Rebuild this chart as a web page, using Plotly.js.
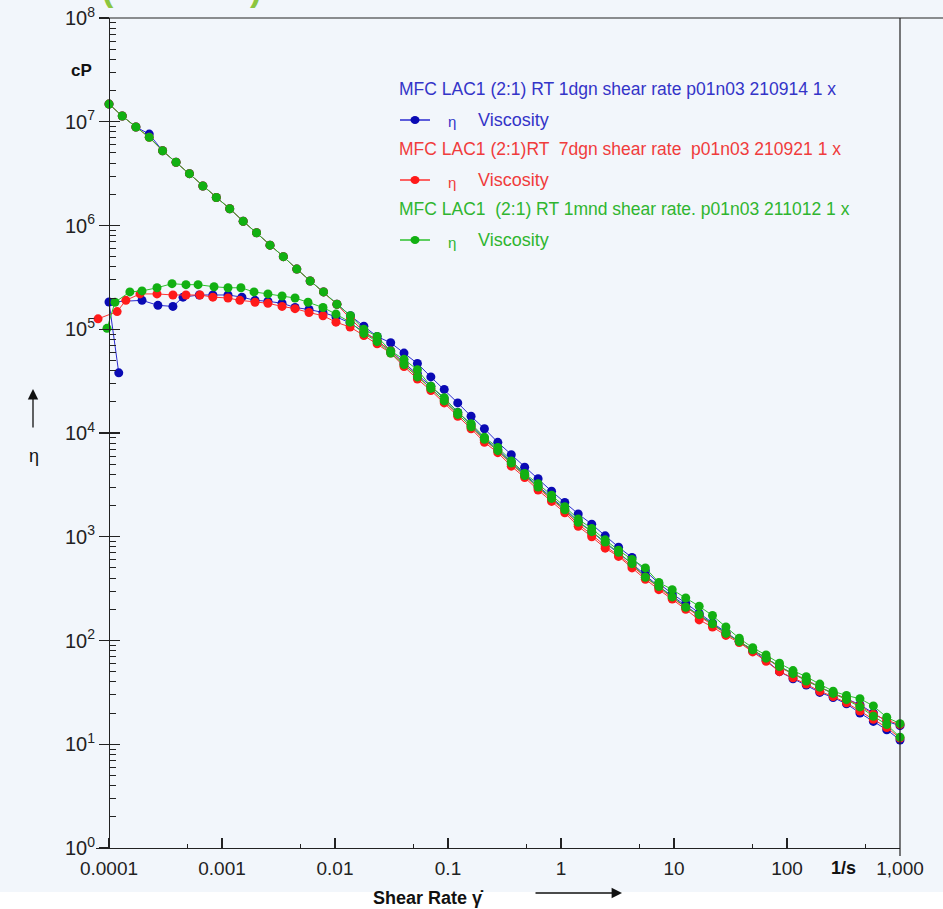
<!DOCTYPE html>
<html>
<head>
<meta charset="utf-8">
<script src="https://cdn.plot.ly/plotly-3.0.1.min.js"></script>
<style>
  html, body { margin: 0; padding: 0; background: #ffffff; }
  #chart { width: 943px; height: 909px; }
</style>
</head>
<body>
<div id="chart"></div>
<script>
// ---------------- DATA ----------------
// Shear rate grid (1/s) used by the high-start branch of each measurement
const shearRate = [
  0.0001, 0.000131, 0.000173, 0.000227, 0.000298, 0.000392, 0.000515, 0.000677, 0.00089, 0.00117,
  0.00154, 0.00202, 0.00266, 0.00349, 0.00459, 0.00603, 0.00792, 0.0104, 0.0137, 0.018,
  0.0236, 0.0311, 0.0408, 0.0536, 0.0705, 0.0926, 0.122, 0.16, 0.21, 0.276,
  0.363, 0.477, 0.627, 0.825, 1.08, 1.42, 1.87, 2.46, 3.23, 4.25,
  5.58, 7.34, 9.64, 12.7, 16.7, 21.9, 28.8, 37.8, 49.7, 65.3,
  85.8, 113, 148, 195, 256, 336, 442, 581, 763, 1000
];

// Viscosity (cP), branch starting high at 0.0001 1/s
const blueHigh = [
  1.48e7, 1.135e7, 8.91e6, 7.6e6, 5.25e6, 4.07e6, 3.16e6, 2.40e6, 1.86e6, 1.45e6,
  1.10e6, 8.51e5, 6.46e5, 5.01e5, 3.80e5, 2.92e5, 2.29e5, 1.74e5, 1.35e5, 1.07e5,
  8.51e4, 7.41e4, 5.89e4, 4.68e4, 3.47e4, 2.63e4, 1.95e4, 1.45e4, 1.10e4, 8130,
  6170, 4680, 3630, 2750, 2140, 1660, 1320, 1020, 794, 631,
  468, 355, 282, 229, 182, 148, 120, 97.7, 79.4, 64.6,
  50.1, 42.7, 37.2, 31.6, 28.2, 24.5, 20.0, 16.6, 13.8, 11.0
];
const redHigh = [
  1.48e7, 1.135e7, 8.91e6, 7.08e6, 5.25e6, 4.07e6, 3.16e6, 2.40e6, 1.86e6, 1.45e6,
  1.10e6, 8.51e5, 6.46e5, 5.01e5, 3.80e5, 2.92e5, 2.29e5, 1.74e5, 1.26e5, 9.55e4,
  7.76e4, 6.17e4, 4.57e4, 3.55e4, 2.69e4, 2.04e4, 1.51e4, 1.15e4, 8510, 6760,
  5010, 3890, 2950, 2290, 1780, 1320, 1050, 813, 661, 525,
  407, 324, 257, 209, 170, 141, 117, 97.7, 81.3, 67.6,
  55.0, 47.9, 41.7, 35.5, 30.9, 27.5, 23.4, 19.5, 17.0, 15.5
];
const greenHigh = [
  1.48e7, 1.135e7, 8.91e6, 7.08e6, 5.25e6, 4.07e6, 3.16e6, 2.40e6, 1.86e6, 1.45e6,
  1.10e6, 8.51e5, 6.46e5, 5.01e5, 3.80e5, 2.92e5, 2.29e5, 1.74e5, 1.35e5, 1.00e5,
  8.51e4, 6.17e4, 5.13e4, 4.07e4, 2.82e4, 2.19e4, 1.58e4, 1.23e4, 9120, 7240,
  5370, 4070, 3240, 2510, 1950, 1480, 1200, 933, 741, 603,
  501, 363, 309, 257, 214, 174, 135, 105, 85.1, 72.4,
  60.3, 51.3, 44.7, 38.0, 32.4, 29.5, 27.5, 23.4, 18.2, 15.8
];

// Branch starting on the low plateau: its own low-rate points, then the grid from 0.018 1/s
const blueLowRate = [0.000122, 0.0001, 0.000196, 0.000271, 0.000368, 0.000452, 0.00063, 0.00083, 0.00113,
  0.0015, 0.00196, 0.00255, 0.0034, 0.00443, 0.00589, 0.00783, 0.0102, 0.0136];
const blueLow = [
  3.8e4, 1.83e5, 1.9e5, 1.7e5, 1.66e5, 2.04e5, 2.14e5, 2.14e5, 2.14e5, 2.04e5,
  1.9e5, 1.86e5, 1.78e5, 1.62e5, 1.55e5, 1.45e5, 1.32e5, 1.15e5,
  9.33e4, 7.76e4, 6.17e4, 4.79e4, 3.72e4, 2.82e4, 2.14e4, 1.58e4, 1.20e4, 8910,
  6920, 5250, 3980, 3090, 2400, 1860, 1410, 1120, 871, 692,
  550, 427, 331, 269, 214, 174, 145, 117, 97.7, 81.3,
  67.6, 56.2, 47.9, 41.7, 35.5, 30.9, 27.5, 24.0, 20.0, 16.6, 15.1
];
const redLowRate = [0.00008, 0.000118, 0.000141, 0.000188, 0.000266, 0.000368, 0.00048, 0.000638, 0.00083,
  0.00113, 0.00144, 0.00196, 0.00255, 0.0034, 0.00443, 0.00589, 0.00783, 0.0102, 0.0136];
const redLow = [
  1.26e5, 1.48e5, 1.9e5, 2.19e5, 2.19e5, 2.14e5, 2.14e5, 2.14e5, 2.04e5, 2.0e5,
  1.9e5, 1.82e5, 1.78e5, 1.66e5, 1.58e5, 1.45e5, 1.35e5, 1.17e5, 1.05e5,
  8.71e4, 7.24e4, 5.89e4, 4.37e4, 3.31e4, 2.57e4, 1.95e4, 1.45e4, 1.10e4, 8130,
  6460, 4790, 3720, 2820, 2190, 1700, 1260, 1000, 776, 646,
  501, 389, 309, 251, 200, 158, 135, 112, 95.5, 77.6,
  63.1, 50.1, 43.7, 38.0, 32.4, 28.8, 25.1, 20.9, 17.4, 14.5, 11.5
];
const greenLowRate = [0.000096, 0.000113, 0.000153, 0.000196, 0.000266, 0.000361, 0.00048, 0.000614, 0.00085,
  0.00113, 0.00147, 0.00192, 0.00255, 0.0034, 0.00443, 0.00577, 0.00783, 0.0102, 0.0136];
const greenLow = [
  1.02e5, 1.82e5, 2.29e5, 2.34e5, 2.51e5, 2.75e5, 2.69e5, 2.69e5, 2.57e5, 2.51e5,
  2.51e5, 2.29e5, 2.19e5, 2.09e5, 2.0e5, 1.82e5, 1.62e5, 1.40e5, 1.17e5,
  9.12e4, 7.59e4, 5.89e4, 4.57e4, 3.47e4, 2.69e4, 2.04e4, 1.51e4, 1.15e4, 8710,
  6760, 5130, 3890, 3020, 2340, 1820, 1380, 1120, 891, 708,
  550, 407, 331, 263, 209, 178, 145, 117, 97.7, 81.3,
  67.6, 56.2, 47.9, 40.7, 35.5, 30.9, 26.9, 22.9, 18.6, 15.5, 11.7
];

const seriesNames = [
  "MFC LAC1 (2:1) RT 1dgn shear rate p01n03 210914 1 x",
  "MFC LAC1 (2:1)RT \u00a07dgn shear rate \u00a0p01n03 210921 1 x",
  "MFC LAC1 \u00a0(2:1) RT 1mnd shear rate. p01n03 211012 1 x"
];
const xTickVals = [0.0001, 0.001, 0.01, 0.1, 1, 10, 100, 1000];
const xTickText = ["0.0001", "0.001", "0.01", "0.1", "1", "10", "100", "1,000"];
const xMinorVals = [0.0005, 0.005, 0.05, 0.5, 5, 50, 500];
const yTickVals = [1, 10, 100, 1000, 1e4, 1e5, 1e6, 1e7, 1e8];
const yTickText = ["10<sup>0</sup>", "10<sup>1</sup>", "10<sup>2</sup>", "10<sup>3</sup>", "10<sup>4</sup>",
  "10<sup>5</sup>", "10<sup>6</sup>", "10<sup>7</sup>", "10<sup>8</sup>"];

// ---------------- STYLE ----------------
const FONT = "Liberation Sans, Arial, Helvetica, sans-serif";
const markerColors = ["#0a0ab4", "#ff1a1a", "#12b012"];
const lineColors = ["#2a2ad0", "#ff3030", "#2cc02c"];
const textColors = ["#3434c8", "#f03c3c", "#2fb52f"];

const seriesData = [
  { high: blueHigh, lowRate: blueLowRate, low: blueLow },
  { high: redHigh, lowRate: redLowRate, low: redLow },
  { high: greenHigh, lowRate: greenLowRate, low: greenLow }
];

const traces = [];
seriesData.forEach((s, i) => {
  const style = {
    type: "scatter", mode: "lines+markers",
    line: { color: lineColors[i], width: 1 },
    marker: { color: markerColors[i], size: 9, symbol: "circle", line: { width: 0 } },
    showlegend: false, cliponaxis: false, hoverinfo: "x+y"
  };
  traces.push(Object.assign({}, style, { x: shearRate, y: s.high, name: seriesNames[i] }));
  traces.push(Object.assign({}, style, {
    x: s.lowRate.concat(shearRate.slice(19)), y: s.low, name: seriesNames[i]
  }));
});
// companion axis trace for the inner tick marks
traces.push({ type: "scatter", x: [], y: [], yaxis: "y2", showlegend: false, hoverinfo: "skip" });

// pixel -> paper helpers (plot area: x 96..900, y 18..848)
const L = 96, R = 900, T = 18, B = 848;
const px = v => (v - L) / (R - L);
const py = v => (B - v) / (B - T);

const annotations = [];
const shapes = [];
function label(x, y, text, size, color, xanchor) {
  annotations.push({ xref: "paper", yref: "paper", x: px(x), y: py(y), text: text, showarrow: false,
    xanchor: xanchor || "center", yanchor: "middle", font: { family: FONT, size: size, color: color } });
}

// legend block
const legendRows = [89, 120, 149, 180, 209, 240];
for (let i = 0; i < 3; i++) {
  label(397, legendRows[2 * i], seriesNames[i], 17.5, textColors[i], "left");
  const rowY = legendRows[2 * i + 1];
  const ry = py(rowY);
  shapes.push({ type: "line", xref: "paper", yref: "paper", x0: px(400), x1: px(430), y0: ry, y1: ry,
    line: { color: lineColors[i], width: 1.5 } });
  shapes.push({ type: "circle", xref: "paper", yref: "paper", xsizemode: "pixel", ysizemode: "pixel",
    xanchor: px(415), yanchor: ry, x0: -4.5, x1: 4.5, y0: -4, y1: 4,
    fillcolor: markerColors[i], line: { width: 0 } });
  label(452, rowY + 2, "\u03b7", 15, textColors[i]);
  label(476, rowY, "Viscosity", 18, textColors[i], "left");
}

// axis captions
label(81, 70, "<b>cP</b>", 17, "#111");
label(34, 456, "\u03b7", 18, "#111");
annotations.push({ xref: "paper", yref: "paper", x: px(33), y: py(389), ax: 0, ay: 40, text: "",
  showarrow: true, arrowhead: 2, arrowsize: 1.6, arrowwidth: 1.3, arrowcolor: "#111" });
label(428, 898, "<b>Shear Rate \u03b3\u0307</b>", 18, "#111");
annotations.push({ xref: "paper", yref: "paper", x: px(622), y: py(893), ax: -88, ay: 0, text: "",
  showarrow: true, arrowhead: 2, arrowsize: 1.6, arrowwidth: 1.3, arrowcolor: "#111" });
label(843, 868, "<b>1/s</b>", 18, "#111");
// cut-off green title brackets at the very top
label(108, -11, "<b>(</b>", 34, "#8cc63f");
label(255, -11, "<b>)</b>", 34, "#8cc63f");

// frame pieces and the white strip at the bottom
shapes.push({ type: "rect", xref: "paper", yref: "paper", x0: px(0), x1: px(943), y0: py(909), y1: py(892),
  fillcolor: "#ffffff", line: { width: 0 }, layer: "below" });
shapes.push({ type: "line", xref: "paper", yref: "paper", x0: px(99), x1: px(943), y0: 1, y1: 1,
  line: { color: "#222", width: 1.2 } });
shapes.push({ type: "line", xref: "paper", yref: "paper", x0: 1, x1: 1, y0: 0, y1: 1,
  line: { color: "#222", width: 1.2 } });
shapes.push({ type: "line", xref: "paper", yref: "paper", x0: 1, x1: 1, y0: 0, y1: py(856),
  line: { color: "#222", width: 1.2 } });

const layout = {
  width: 943, height: 909,
  margin: { l: L, r: 943 - R, t: T, b: 909 - B },
  paper_bgcolor: "#f2f6fb", plot_bgcolor: "rgba(0,0,0,0)",
  showlegend: false,
  font: { family: FONT, color: "#222" },
  xaxis: {
    type: "log", range: [Math.log10(0.0001) - 13 / 113, 3],
    showline: true, linecolor: "#222", linewidth: 1.2, mirror: false,
    showgrid: false, zeroline: false,
    ticks: "inside", ticklen: 10, tickwidth: 1.2, tickcolor: "#222",
    tickmode: "array", tickvals: xTickVals, ticktext: xTickText,
    tickfont: { family: FONT, size: 19, color: "#222" },
    ticklabelstandoff: 3,
    minor: { tickmode: "array", tickvals: xMinorVals, ticks: "inside", ticklen: 4, tickwidth: 1, tickcolor: "#222" }
  },
  yaxis: {
    type: "log", range: [0, 8], anchor: "free", position: px(109),
    showline: true, linecolor: "#222", linewidth: 1.2,
    showgrid: false, zeroline: false,
    ticks: "outside", ticklen: 10, tickwidth: 1.2, tickcolor: "#222",
    tickmode: "array", tickvals: yTickVals, ticktext: yTickText,
    tickfont: { family: FONT, size: 20, color: "#222" },
    ticklabelstandoff: 0
  },
  yaxis2: {
    type: "log", range: [0, 8], overlaying: "y", anchor: "free", position: px(109),
    showline: false, showgrid: false, zeroline: false, showticklabels: false,
    ticks: "inside", ticklen: 10, tickwidth: 1.2, tickcolor: "#222",
    tickmode: "array", tickvals: yTickVals,
    minor: { dtick: "D1", ticks: "inside", ticklen: 6, tickwidth: 1, tickcolor: "#222" }
  },
  annotations: annotations,
  shapes: shapes
};

Plotly.newPlot("chart", traces, layout, { staticPlot: true, displayModeBar: false });
</script>
</body>
</html>
